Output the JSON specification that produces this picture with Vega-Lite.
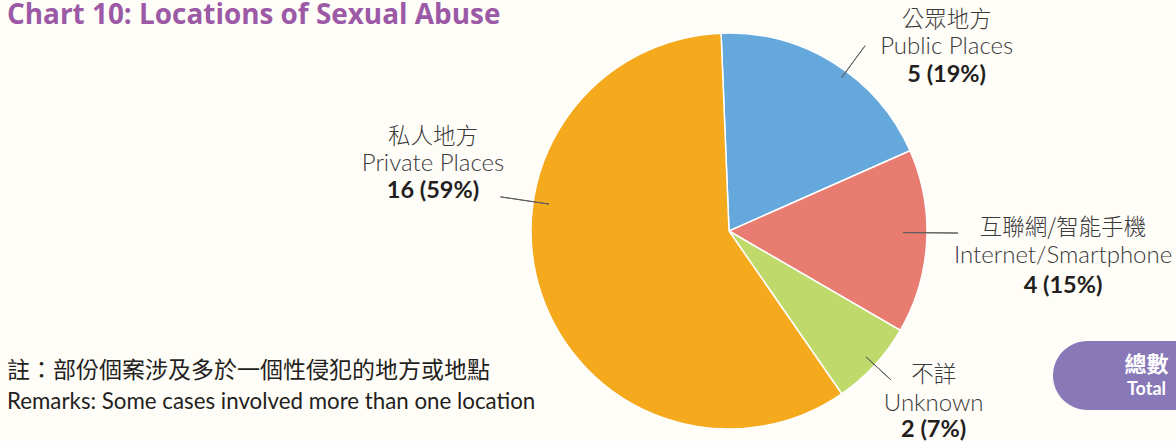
{
  "$schema": "https://vega.github.io/schema/vega-lite/v6.json",
  "background": "#fffdf8",
  "padding": {"left": 7, "top": 2, "right": 0, "bottom": 0},
  "title": {"text": "Chart 10: Locations of Sexual Abuse", "anchor": "start", "frame": "group", "font": "Open Sans", "fontSize": 27.9, "fontWeight": "bold", "color": "#9b59a6", "offset": -20.9},
  "datasets": {
    "places": [
      {"zh": "公眾地方", "en": "Public Places", "value": 5, "pct": 19, "label": "5 (19%)", "rank": 1},
      {"zh": "互聯網/智能手機", "en": "Internet/Smartphone", "value": 4, "pct": 15, "label": "4 (15%)", "rank": 2},
      {"zh": "不詳", "en": "Unknown", "value": 2, "pct": 7, "label": "2 (7%)", "rank": 3},
      {"zh": "私人地方", "en": "Private Places", "value": 16, "pct": 59, "label": "16 (59%)", "rank": 4}
    ],
    "total": [{"zh": "總數", "en": "Total"}]
  },
  "spacing": 0,
  "bounds": "flush",
  "hconcat": [
    {
      "width": 524, "height": 316,
      "data": {"values": []},
      "mark": "text",
      "title": {
        "text": "註：部份個案涉及多於一個性侵犯的地方或地點",
        "subtitle": "Remarks: Some cases involved more than one location",
        "orient": "bottom", "anchor": "start", "frame": "group", "offset": 10.5,
        "font": "Noto Sans CJK TC", "fontSize": 23, "fontWeight": "normal", "color": "#231f20",
        "subtitleFont": "Lato", "subtitleFontSize": 22.3, "subtitleColor": "#231f20", "subtitlePadding": 8
      }
    },
    {
      "spacing": 126,
      "bounds": "flush",
      "hconcat": [
        {
          "width": 396, "height": 396,
          "data": {"name": "places"},
          "layer": [
            {
              "mark": {"type": "arc", "stroke": "#ffffff", "strokeWidth": 1.5},
              "encoding": {
                "theta": {"field": "pct", "type": "quantitative", "stack": true, "scale": {"domain": [0, 100], "range": [-0.0401, 6.2431]}},
                "order": {"field": "rank", "type": "quantitative"},
                "color": {"field": "en", "type": "nominal", "legend": null,
                  "scale": {"domain": ["Public Places", "Internet/Smartphone", "Unknown", "Private Places"], "range": ["#64a8dc", "#e97c70", "#c0d96b", "#f5a91d"]}}
              }
            },
            {
              "transform": [{"filter": "datum.en === 'Public Places'"}],
              "layer": [
                {"mark": {"type": "arc", "radius": 230, "radius2": 190, "filled": false, "stroke": "#5e5e5e", "strokeWidth": 1}, "encoding": {"theta": {"datum": 10.72}, "theta2": {"datum": 10.72}}},
                {"mark": {"type": "text", "radius": 285, "dy": -27, "font": "Noto Sans CJK TC", "fontSize": 22.5, "fontWeight": 300, "color": "#3a3a3a", "baseline": "middle"}, "encoding": {"theta": {"datum": 14.47}, "text": {"field": "zh"}}},
                {"mark": {"type": "text", "radius": 285, "font": "Lato", "fontSize": 24, "fontWeight": 300, "color": "#3a3a3a", "baseline": "middle"}, "encoding": {"theta": {"datum": 14.47}, "text": {"field": "en"}}},
                {"mark": {"type": "text", "radius": 285, "dy": 28, "font": "Lato", "fontSize": 23.5, "fontWeight": "bold", "color": "#231f20", "baseline": "middle"}, "encoding": {"theta": {"datum": 14.47}, "text": {"field": "label"}}}
              ]
            },
            {
              "transform": [{"filter": "datum.en === 'Internet/Smartphone'"}],
              "layer": [
                {"mark": {"type": "arc", "radius": 229, "radius2": 174, "filled": false, "stroke": "#5e5e5e", "strokeWidth": 1}, "encoding": {"theta": {"datum": 25.78}, "theta2": {"datum": 25.78}}},
                {"mark": {"type": "text", "radius": 335, "dy": -28, "font": "Noto Sans CJK TC", "fontSize": 22.5, "fontWeight": 300, "color": "#3a3a3a", "baseline": "middle"}, "encoding": {"theta": {"datum": 26.83}, "text": {"field": "zh"}}},
                {"mark": {"type": "text", "radius": 335, "font": "Lato", "fontSize": 24, "fontWeight": 300, "color": "#3a3a3a", "baseline": "middle"}, "encoding": {"theta": {"datum": 26.83}, "text": {"field": "en"}}},
                {"mark": {"type": "text", "radius": 335, "dy": 30, "font": "Lato", "fontSize": 23.5, "fontWeight": "bold", "color": "#231f20", "baseline": "middle"}, "encoding": {"theta": {"datum": 26.83}, "text": {"field": "label"}}}
              ]
            },
            {
              "transform": [{"filter": "datum.en === 'Unknown'"}],
              "layer": [
                {"mark": {"type": "arc", "radius": 220, "radius2": 186, "filled": false, "stroke": "#5e5e5e", "strokeWidth": 1}, "encoding": {"theta": {"datum": 37.47}, "theta2": {"datum": 37.47}}},
                {"mark": {"type": "text", "radius": 268, "dy": -29, "font": "Noto Sans CJK TC", "fontSize": 22.5, "fontWeight": 300, "color": "#3a3a3a", "baseline": "middle"}, "encoding": {"theta": {"datum": 36.81}, "text": {"field": "zh"}}},
                {"mark": {"type": "text", "radius": 268, "font": "Lato", "fontSize": 24, "fontWeight": 300, "color": "#3a3a3a", "baseline": "middle"}, "encoding": {"theta": {"datum": 36.81}, "text": {"field": "en"}}},
                {"mark": {"type": "text", "radius": 268, "dy": 26, "font": "Lato", "fontSize": 23.5, "fontWeight": "bold", "color": "#231f20", "baseline": "middle"}, "encoding": {"theta": {"datum": 36.81}, "text": {"field": "label"}}}
              ]
            },
            {
              "transform": [{"filter": "datum.en === 'Private Places'"}],
              "layer": [
                {"mark": {"type": "arc", "radius": 231, "radius2": 182, "filled": false, "stroke": "#5e5e5e", "strokeWidth": 1}, "encoding": {"theta": {"datum": 78.0}, "theta2": {"datum": 78.0}}},
                {"mark": {"type": "text", "radius": 303.5, "dy": -27, "font": "Noto Sans CJK TC", "fontSize": 22.5, "fontWeight": 300, "color": "#3a3a3a", "baseline": "middle"}, "encoding": {"theta": {"datum": 79.18}, "text": {"field": "zh"}}},
                {"mark": {"type": "text", "radius": 303.5, "font": "Lato", "fontSize": 24, "fontWeight": 300, "color": "#3a3a3a", "baseline": "middle"}, "encoding": {"theta": {"datum": 79.18}, "text": {"field": "en"}}},
                {"mark": {"type": "text", "radius": 303.5, "dy": 27, "font": "Lato", "fontSize": 23.5, "fontWeight": "bold", "color": "#231f20", "baseline": "middle"}, "encoding": {"theta": {"datum": 79.18}, "text": {"field": "label"}}}
              ]
            }
          ]
        },
        {
          "width": 123, "height": 377,
          "data": {"name": "total"},
          "encoding": {
            "x": {"field": "zh", "type": "nominal", "axis": null, "scale": {"paddingInner": 0, "paddingOuter": 0}},
            "y": {"field": "zh", "type": "nominal", "axis": null, "scale": {"paddingInner": 0.552, "paddingOuter": 1, "align": 1}}
          },
          "layer": [
            {"mark": {"type": "rect", "color": "#8878b8", "cornerRadiusTopLeft": 35, "cornerRadiusBottomLeft": 35}},
            {"mark": {"type": "text", "dx": 32, "dy": -11, "font": "Noto Sans CJK TC", "fontSize": 22, "fontWeight": "bold", "color": "#ffffff", "baseline": "middle"}, "encoding": {"text": {"field": "zh"}}},
            {"mark": {"type": "text", "dx": 32, "dy": 14, "font": "Lato", "fontSize": 18, "fontWeight": "bold", "color": "#ffffff", "baseline": "middle"}, "encoding": {"text": {"field": "en"}}}
          ]
        }
      ]
    }
  ],
  "config": {"view": {"stroke": null}}
}
